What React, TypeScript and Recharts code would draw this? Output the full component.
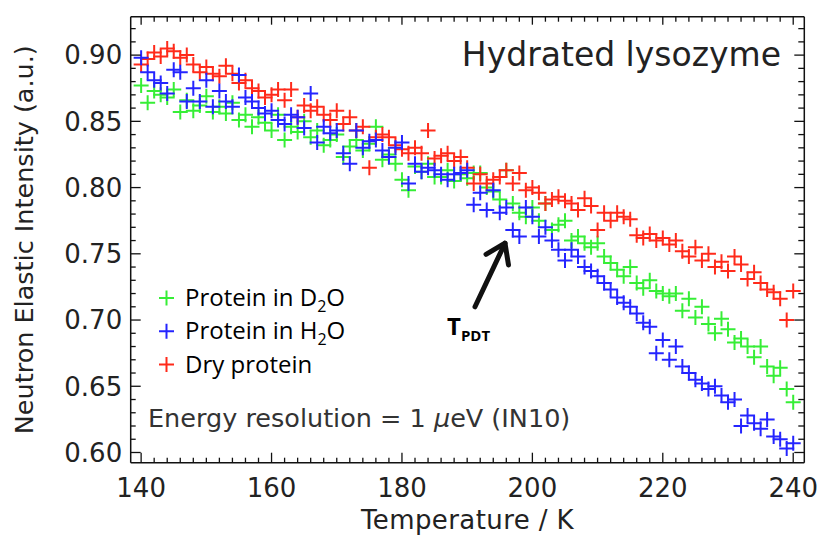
import { ScatterChart, Scatter, XAxis, YAxis, Legend, ReferenceLine } from 'recharts'

// temperature (K) of each scan point, shared by the three samples
const TEMPS = [
  140, 141, 142, 143, 144, 145, 146, 147, 148, 149,
  150, 151, 152, 153, 154, 155, 156, 157, 158, 159,
  160, 161, 162, 163, 164, 165, 166, 167, 168, 169,
  170, 171, 172, 173, 174, 175, 176, 177, 178, 179,
  180, 181, 182, 183, 184, 185, 186, 187, 188, 189,
  190, 191, 192, 193, 194, 195, 196, 197, 198, 199,
  200, 201, 202, 203, 204, 205, 206, 207, 208, 209,
  210, 211, 212, 213, 214, 215, 216, 217, 218, 219,
  220, 221, 222, 223, 224, 225, 226, 227, 228, 229,
  230, 231, 232, 233, 234, 235, 236, 237, 238, 239,
  240,
]

const D2O = [
  0.877, 0.864, 0.873, 0.870, 0.868, 0.874, 0.857, 0.866, 0.858, 0.862,
  0.869, 0.857, 0.861, 0.856, 0.864, 0.851, 0.855, 0.846, 0.853, 0.849,
  0.843, 0.855, 0.836, 0.846, 0.842, 0.850, 0.838, 0.843, 0.832, 0.836,
  0.840, 0.823, 0.831, 0.836, 0.828, 0.833, 0.846, 0.821, 0.825, 0.818,
  0.806, 0.798, 0.816, 0.812, 0.818, 0.808, 0.808, 0.813, 0.805, 0.810,
  0.807, 0.811, 0.811, 0.800, 0.797, 0.791, 0.813, 0.788, 0.781, 0.778,
  0.785, 0.775, 0.788, 0.768, 0.772, 0.775, 0.760, 0.763, 0.758, 0.755,
  0.758, 0.748, 0.743, 0.738, 0.733, 0.740, 0.728, 0.724, 0.730, 0.722,
  0.720, 0.718, 0.720, 0.707, 0.716, 0.702, 0.710, 0.697, 0.690, 0.701,
  0.693, 0.683, 0.686, 0.680, 0.672, 0.680, 0.665, 0.658, 0.664, 0.648,
  0.638,
]

const H2O = [
  0.898, 0.887, 0.881, 0.879, 0.871, 0.889, 0.887, 0.865, 0.875, 0.865,
  0.881, 0.861, 0.873, 0.865, 0.861, 0.885, 0.868, 0.865, 0.860, 0.856,
  0.858, 0.851, 0.848, 0.855, 0.853, 0.845, 0.871, 0.834, 0.846, 0.841,
  0.843, 0.826, 0.818, 0.843, 0.830, 0.835, 0.836, 0.828, 0.823, 0.830,
  0.834, 0.803, 0.818, 0.812, 0.815, 0.813, 0.810, 0.806, 0.810, 0.811,
  0.813, 0.787, 0.796, 0.783, 0.798, 0.781, 0.785, 0.768, 0.763, 0.785,
  0.778, 0.763, 0.770, 0.760, 0.753, 0.745, 0.753, 0.748, 0.740, 0.737,
  0.733, 0.728, 0.723, 0.717, 0.713, 0.710, 0.705, 0.698, 0.695, 0.675,
  0.685, 0.670, 0.680, 0.665, 0.660, 0.655, 0.652, 0.648, 0.650, 0.643,
  0.638, 0.640, 0.620, 0.628, 0.622, 0.618, 0.625, 0.612, 0.610, 0.603,
  0.607,
]

const DRY = [
  0.893, 0.897, 0.902, 0.899, 0.905, 0.903, 0.898, 0.900, 0.893, 0.887,
  0.891, 0.886, 0.884, 0.892, 0.886, 0.879, 0.881, 0.875, 0.873, 0.868,
  0.870, 0.874, 0.866, 0.874, 0.853, 0.862, 0.858, 0.861, 0.855, 0.851,
  0.858, 0.848, 0.853, 0.843, 0.846, 0.815, 0.838, 0.840, 0.838, 0.832,
  0.829, 0.826, 0.830, 0.826, 0.843, 0.822, 0.824, 0.826, 0.820, 0.823,
  0.815, 0.803, 0.810, 0.803, 0.806, 0.808, 0.813, 0.803, 0.811, 0.798,
  0.800, 0.796, 0.788, 0.791, 0.793, 0.790, 0.788, 0.783, 0.792, 0.786,
  0.768, 0.781, 0.775, 0.781, 0.778, 0.776, 0.764, 0.762, 0.765, 0.760,
  0.762, 0.757, 0.760, 0.752, 0.748, 0.755, 0.745, 0.750, 0.740, 0.744,
  0.737, 0.748, 0.742, 0.731, 0.736, 0.728, 0.723, 0.721, 0.716, 0.700,
  0.722,
]

const X_MAJOR = [140, 160, 180, 200, 220, 240]
const Y_MAJOR = [0.6, 0.65, 0.7, 0.75, 0.8, 0.85, 0.9]
const X_DOMAIN: [number, number] = [138.4, 241.7]
const Y_DOMAIN: [number, number] = [0.5923, 0.929]

// minor ticks: every 2 K and every 0.01
const X_TICKS = Array.from({ length: 51 }, (_, i) => 140 + i * 2)
const Y_TICKS = Array.from({ length: 33 }, (_, i) => Math.round((0.6 + i * 0.01) * 100) / 100)

// T_PDT arrow, from label up to the kink
const ARROW = [{ x: 191.2, y: 0.710 }, { x: 195.8, y: 0.758 }]

const GREEN = '#36ee36'
const BLUE = '#2424ff'
const RED = '#ff2a1a'

const toPoints = (vals: number[]) => TEMPS.map((t, i) => ({ t, v: vals[i] }))

const SERIES = [
  { key: 'd2o', data: toPoints(D2O), color: GREEN },
  { key: 'dry', data: toPoints(DRY), color: RED },
  { key: 'h2o', data: toPoints(H2O), color: BLUE },
]

const FONT = '"DejaVu Sans", sans-serif'
const LEG_FONT = '"Open Sans", sans-serif'

const near = (v: number, list: number[]) => list.some((m) => Math.abs(m - v) < 1e-6)

function AxisTick({ x, y, payload, side }: any) {
  const v = payload.value
  const major = side === 'bottom' || side === 'top' ? near(v, X_MAJOR) : near(v, Y_MAJOR)
  const len = major ? 10 : 5
  const s = { stroke: '#111', strokeWidth: 1.3 }
  if (side === 'bottom') {
    return (
      <g>
        <line x1={x} y1={y} x2={x} y2={y - len} {...s} />
        {major && (
          <text x={x} y={y + 34} textAnchor="middle" fontFamily={FONT} fontSize={26} fill="#222">{v}</text>
        )}
      </g>
    )
  }
  if (side === 'top') return <line x1={x} y1={y} x2={x} y2={y + (major ? 8 : 5)} {...s} />
  if (side === 'left') {
    return (
      <g>
        <line x1={x} y1={y} x2={x + len} y2={y} {...s} />
        {major && (
          <text x={x - 8.5} y={y + 9.3} textAnchor="end" fontFamily={FONT} fontSize={26} fill="#222">{v.toFixed(2)}</text>
        )}
      </g>
    )
  }
  return <line x1={x} y1={y} x2={x - (major ? 10 : 6)} y2={y} {...s} />
}

function Cross({ cx, cy, color }: any) {
  const r = 7.5
  return <path d={`M${cx - r},${cy}H${cx + r}M${cx},${cy - r}V${cy + r}`} stroke={color} strokeWidth={2} fill="none" />
}

function ArrowShape({ x1, y1, x2, y2 }: any) {
  const a = Math.atan2(y2 - y1, x2 - x1)
  const L = 22
  const sp = 0.6
  const lx = x2 - L * Math.cos(a - sp)
  const ly = y2 - L * Math.sin(a - sp)
  const rx = x2 - L * Math.cos(a + sp)
  const ry = y2 - L * Math.sin(a + sp)
  return (
    <g stroke="#111" strokeWidth={5} strokeLinecap="round" strokeLinejoin="round" fill="none">
      <line x1={x1} y1={y1} x2={x2} y2={y2} />
      <polyline points={`${lx},${ly} ${x2},${y2} ${rx},${ry}`} />
    </g>
  )
}

const LEGEND_ROWS = [
  { color: GREEN, label: 'Protein in D', sub: '2', tail: 'O' },
  { color: BLUE, label: 'Protein in H', sub: '2', tail: 'O' },
  { color: RED, label: 'Dry protein', sub: '', tail: '' },
]

function LegendBox() {
  return (
    <svg width={240} height={110}>
      {LEGEND_ROWS.map((r, i) => (
        <g key={i}>
          <Cross cx={16.5} cy={22 + i * 33.3} color={r.color} />
          <text x={35} y={30 + i * 33.3} fontFamily={LEG_FONT} fontSize={24} fill="#000">
            {r.label}
            {r.sub && <tspan fontSize={16} dy={6}>{r.sub}</tspan>}
            {r.tail && <tspan dy={-6}>{r.tail}</tspan>}
          </text>
        </g>
      ))}
    </svg>
  )
}

export default function App() {
  return (
    <div style={{ position: 'absolute', left: 0, top: 0, width: 821, height: 536, background: '#fff' }}>
      <ScatterChart width={821} height={536} margin={{ top: 15.7, right: 15.7, bottom: 33.3, left: 70.7 }}>
        <XAxis
          dataKey="t" type="number" domain={X_DOMAIN} allowDataOverflow ticks={X_TICKS} interval={0}
          height={40} tickSize={0} tickMargin={0} tickLine={false}
          axisLine={{ stroke: '#111', strokeWidth: 1.5 }}
          tick={(p: any) => <AxisTick {...p} side="bottom" />}
        />
        <XAxis
          xAxisId="top" orientation="top" dataKey="t" type="number" domain={X_DOMAIN} allowDataOverflow
          ticks={X_TICKS} interval={0} height={1} tickSize={0} tickMargin={0} tickLine={false}
          axisLine={{ stroke: '#111', strokeWidth: 1.5 }}
          tick={(p: any) => <AxisTick {...p} side="top" />}
        />
        <YAxis
          dataKey="v" type="number" domain={Y_DOMAIN} allowDataOverflow ticks={Y_TICKS} interval={0}
          width={60} tickSize={0} tickMargin={0} tickLine={false}
          axisLine={{ stroke: '#111', strokeWidth: 1.5 }}
          tick={(p: any) => <AxisTick {...p} side="left" />}
        />
        <YAxis
          yAxisId="right" orientation="right" dataKey="v" type="number" domain={Y_DOMAIN} allowDataOverflow
          ticks={Y_TICKS} interval={0} width={1} tickSize={0} tickMargin={0} tickLine={false}
          axisLine={{ stroke: '#111', strokeWidth: 1.5 }}
          tick={(p: any) => <AxisTick {...p} side="right" />}
        />
        {SERIES.map((s) => (
          <Scatter
            key={s.key}
            data={s.data}
            isAnimationActive={false}
            shape={(p: any) => <Cross cx={p.cx} cy={p.cy} color={s.color} />}
          />
        ))}
        <ReferenceLine segment={ARROW} ifOverflow="visible" shape={(p: any) => <ArrowShape {...p} />} />
        <Legend
          layout="horizontal" align="center" verticalAlign="middle"
          wrapperStyle={{ left: 150, top: 276, width: 240, height: 110 }}
          content={() => <LegendBox />}
        />
      </ScatterChart>
      <svg width={821} height={536} style={{ position: 'absolute', left: 0, top: 0, pointerEvents: 'none' }}>
        <text x={781} y={66} textAnchor="end" fontFamily={FONT} fontSize={33} fill="#222">Hydrated lysozyme</text>
        <text x={148} y={427} fontFamily={FONT} fontSize={25.5} fill="#333">
          Energy resolution = 1 <tspan fontStyle="italic">μ</tspan>eV (IN10)
        </text>
        <text x={447} y={335} fontFamily={LEG_FONT} fontWeight={700} fontSize={24} fill="#000">
          T<tspan fontSize={15} dy={6}>PDT</tspan>
        </text>
        <text x={467.5} y={529} textAnchor="middle" fontFamily={FONT} fontSize={26} letterSpacing={0.4} fill="#222">Temperature / K</text>
        <text x={33} y={239.7} transform="rotate(-90 33 239.7)" textAnchor="middle" fontFamily={FONT} fontSize={25.5} fill="#222">
          Neutron Elastic Intensity (a.u.)
        </text>
      </svg>
    </div>
  )
}
